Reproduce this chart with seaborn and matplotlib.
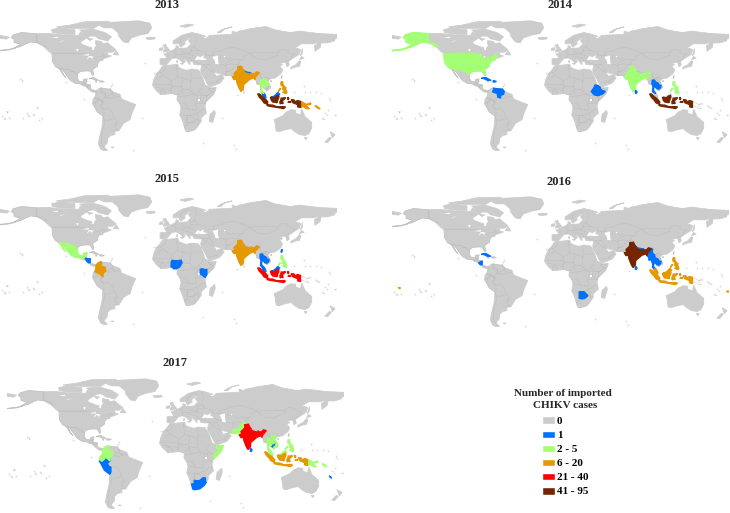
import numpy as np
import pandas as pd
import seaborn as sns
import matplotlib
matplotlib.use("Agg")
import matplotlib.pyplot as plt

sns.set_theme(style="white")
plt.rcParams['font.family'] = ['Liberation Serif', 'DejaVu Serif']

# lon / lat outlines
LAND = [
    [(-166,68.5),(-157,71),(-141,69.7),(-128,70),(-115,68.5),(-108,68.5),(-96,68),(-94,71.5),(-89,69),(-85,69.5),(-81,68),(-86,66),(-94,61),(-93,58.7),(-85,55.5),(-82,55),(-82,52.5),(-79,51.5),(-79,54.5),(-77,57),(-78,60),(-78,62.4),(-72,61.5),(-70,59),(-65,60),(-61,56.5),(-56,52.5),(-60,50),(-66,50),(-70,47),(-65,49),(-64.5,47),(-61,46),(-66,44),(-70,43),(-70,41.5),(-74,40.5),(-76,37),(-76,35),(-81,31.5),(-80,26),(-81,25),(-82.5,28),(-84,30),(-89,30),(-94,29.5),(-97.5,27),(-97.5,22),(-95,18.5),(-91,18.5),(-90.5,21),(-87,21.5),(-88,16),(-83.5,15),(-83.5,11),(-79.5,9.3),(-77.3,8.5),(-78,7.5),(-80.5,7.3),(-85,10),(-88,13),(-94,16),(-100,17),(-105,20),(-109,25.5),(-113,31),(-114.8,31.5),(-112,26),(-109.5,23),(-112,25),(-115,30),(-117,32.5),(-120.5,34.5),(-124,40),(-124,48),(-128,51),(-133,56),(-140,60),(-147,61),(-152,59),(-158,56),(-165,54.5),(-158,58.5),(-165,60.5),(-165,64),(-168,65.5)],
    [(-73,78),(-60,82),(-32,83.5),(-20,81),(-18,76),(-22,70),(-32,68),(-40,65),(-43,60),(-48,61),(-53,67),(-54,71),(-60,76),(-68,76)],
    [(-77.3,8.5),(-72,12),(-68,11),(-62,10.5),(-60,8),(-52,5),(-50,0),(-44,-2.5),(-35,-6),(-39,-15),(-41,-22),(-48,-26),(-53,-34),(-58,-34.5),(-57,-38),(-62,-39),(-65,-42),(-65.5,-47),(-69,-51),(-65,-55),(-72,-54),(-75,-48),(-73,-38),(-71,-30),(-70,-18),(-76,-14),(-81,-5),(-80,0),(-78,3),(-77.5,7)],
    [(-6,35.5),(10,37),(11,33.5),(19,30.5),(25,32),(32,31),(34,28),(37,21),(39,15),(43,12),(51,12),(48,5),(40,-3),(39,-8),(40.5,-15),(35,-20),(35,-24),(32.5,-27),(28,-33),(20,-35),(18,-33),(14.5,-22),(12,-17),(13.5,-10),(12,-5),(9,-1),(9.5,4),(5,6),(-4,5),(-8,4.5),(-13,9),(-17,14.5),(-16,20),(-13,27),(-10,30)],
    [(-9,37),(-9,43),(-1.5,43.5),(-4.5,48),(2,51),(8,54),(8,57),(11,56),(10,54),(20,54.5),(24,59),(30,60),(23,60),(21,63),(25,65.5),(22,65.5),(17,61),(18,59),(13,55.5),(11,59),(5,59),(5,62),(14,68),(25,71),(32,69.5),(40,67),(35,66),(40,64.5),(44,68),(54,68.5),(68,69),(68,72.5),(73,71),(75,72.5),(81,73.5),(87,75),(104,77.5),(113,74),(130,71),(140,72.5),(160,70),(180,69),(180,65),(178,64),(177,62),(170,60),(163,60),(162,55),(156.5,51),(156,57),(163,62),(155,59),(142,59),(135,54.5),(141,53),(140,48),(132,43),(128,40),(129,36),(126.5,34.5),(126,37),(125,39.5),(121,39),(118,39),(122,37),(119,35),(122,31),(120,27),(114,22.5),(108,21.5),(106,19),(109,13),(105,8.6),(103,10.5),(100,13.5),(99.5,9),(103.5,4),(104,1.3),(101,3),(98.5,8),(98,15),(94.5,16),(94,19),(91,22.5),(87,21),(80,15),(80,11),(77.5,8),(73,18),(72.5,21),(69,22),(67,25),(57,25.5),(56.5,27),(51,28),(48,30),(50,26),(51,24),(56,26),(59.5,22.5),(55,17),(45,13),(43,13),(39,21),(35,28),(34.5,31.5),(36,36.5),(31,36.5),(27,37),(26,40),(23,40),(23,36.5),(19.5,41),(13,45.5),(18,40),(16,38),(12,42),(8,44),(3,43),(0,39),(-2,36.7),(-5,36)],
    [(113,-22),(114,-26),(115,-34),(118,-35),(124,-33),(131,-31.5),(135,-35),(140,-38),(146,-39),(150,-37),(153,-31),(153,-25),(146,-19),(142.5,-11),(141,-17),(136,-15),(136,-12),(131,-11.5),(126,-14),(122,-18)],
    [(-180,68),(-170,66),(-173,64),(-180,65)],
    [(-180,51.5),(-170,52.5),(-163,54.5),(-163,55),(-170,53),(-180,52)],
    [(-125,74),(-116,76),(-100,74),(-100,69),(-115,69.5),(-124,71)],
    [(-120,77),(-105,79),(-90,82.5),(-65,83),(-62,82),(-76,78),(-80,75.5),(-100,75.5),(-115,76)],
    [(-95,73.7),(-80,74.5),(-68,71),(-61,66.5),(-65,62),(-75,64.5),(-78,67),(-88,68.5)],
    [(-87,65),(-81,64),(-84,62.5)],
    [(-59,47.5),(-53,47),(-56,51.5)],
    [(-24,65.5),(-15,66),(-14,64.5),(-19,63.5),(-23,64)],
    [(-5.5,50),(1.5,51.5),(0,53.5),(-2,56),(-3,58.5),(-6,57.5),(-3.5,54),(-5,52)],
    [(-10,52),(-6,52.3),(-6,55),(-9.5,54)],
    [(12,78),(22,80),(27,79),(18,76.5)],
    [(52,71),(57,74),(68,77),(60,75),(56,71)],
    [(141,46),(143,54),(143,49)],
    [(140,42),(145,43.5),(142,45.5)],
    [(130.5,32),(135,34),(140,35),(141.5,40),(140,41),(136,36.5),(131,34)],
    [(120.2,23),(121.5,25.2),(121,22)],
    [(108.7,19),(110.5,20),(110,18.3)],
    [(43.5,-24),(44.5,-16.5),(49.3,-12),(50,-16),(47,-25)],
    [(172.5,-35),(178,-38),(175,-41.5),(174,-38)],
    [(167,-46),(172,-41),(174,-42),(170,-46.5)],
    [(145,-41),(148,-41),(147,-43.5)],
    [(-84.5,22),(-80,23),(-74.5,20),(-78,20),(-82,22)],
    [(-74,19.7),(-68.5,18.7),(-71.5,18),(-74,18.3)],
    [(-78.3,18.4),(-76.3,18),(-77,18.5)],
    [(9,41),(9.7,41),(9.5,39),(8.5,39)],
    [(12.5,38),(15.5,38),(15,36.8)],
    [(-61,-51.5),(-58,-51.5),(-59.5,-52.3)],
    [(-69,-53.5),(-66,-54.5),(-70,-55)],
]

WATER = [
    [(28,41.5),(31,46),(34,44.5),(38,47),(37,44.5),(41.5,42),(36,41.5),(32,42)],
    [(47,45),(53,46.5),(53,40),(54,37),(50,37.5),(49.5,40.5)],
    [(-92,47),(-85,48),(-84.7,46.5),(-89,46.5)],
    [(-87.5,42),(-85,46),(-80,45.5),(-82,43),(-84,45),(-86,43)],
    [(-83,41.7),(-76.5,43.6),(-79,43),(-82,42.5)],
    [(-99,53),(-96,53.5),(-97,50.5)],
    [(-125,65.5),(-118,66.5),(-118,65)],
    [(-115,62),(-110,62.5),(-116,61)],
    [(59,46),(61,46),(60,44)],
    [(32,0),(34,0),(34,-2.5),(32,-2.5)],
]

COUNTRIES = {
    "USA": [[(-124.7,48.4),(-95,49),(-89,48),(-84.5,46.5),(-82.5,45),(-82.5,42),(-79,43),(-75,45),(-71,45),(-69,47.3),(-67,45),(-70,43.5),(-70,41.5),(-74,40.5),(-76,37),(-76,35),(-81,31.5),(-80,26),(-81,25.3),(-82.5,28),(-84,30),(-89,30),(-94,29.5),(-97.3,26),(-99.5,27.5),(-101.5,29.8),(-103,29),(-106.5,31.7),(-111,31.3),(-114.8,32.5),(-117.1,32.5),(-120.5,34.5),(-124,40)],
            [(-141,69.7),(-157,71),(-166,68.5),(-168,65.5),(-165,64),(-165,60.5),(-158,58.5),(-165,54.5),(-158,56),(-152,59),(-147,61),(-140,60),(-133,56),(-130,55.5),(-135,59.5),(-141,60)],
            [(-180,51.5),(-170,52.5),(-163,54.5),(-163,55),(-170,53),(-180,52)]],
    "Mexico": [[(-117.1,32.5),(-114.8,32.5),(-111,31.3),(-106.5,31.7),(-103,29),(-101.5,29.8),(-99.5,27.5),(-97.3,26),(-97.5,22),(-95,18.5),(-91,18.5),(-90.5,21),(-87,21.5),(-88,18),(-89,17.8),(-91,17.5),(-92,14.6),(-94,16),(-100,17),(-105,20),(-109,25.5),(-113,31),(-114.8,31.5),(-112,26),(-109.5,23),(-112,25),(-115,30)]],
    "Guatemala": [[(-92,14.6),(-91,17.5),(-89,17.8),(-89,15.8),(-90,13.8)]],
    "Honduras": [[(-89,15.8),(-83.5,15),(-84.5,14.7),(-87.5,13)]],
    "Nicaragua": [[(-87.5,13),(-83.5,15),(-83.7,11),(-85.7,11)]],
    "Panama": [[(-83,8.5),(-79.5,9.4),(-77.3,8.5),(-78,7.5),(-80.5,7.3),(-83,8)]],
    "Cuba": [[(-84.5,22),(-80,23),(-74.5,20),(-78,20),(-82,22)]],
    "Dominican Rep": [[(-71.7,19.7),(-68.5,18.7),(-71.5,18)]],
    "Colombia": [[(-77.3,8.5),(-75,11),(-72,12),(-71.3,11),(-72.5,7.5),(-67.5,6),(-67,2),(-70,-0.5),(-70,-4.2),(-74,-0.5),(-75.5,0),(-78.8,1.5),(-77.5,4),(-77.5,7)]],
    "Venezuela": [[(-72,11.5),(-68,11),(-62,10.5),(-60,8),(-61,5),(-64,4),(-64,1),(-67,2),(-67.5,6),(-72.5,7.5),(-71.3,11)]],
    "Ecuador": [[(-80,1),(-78.8,1.5),(-75.5,0),(-75.3,-1.5),(-78.5,-4.5),(-80.3,-3.4),(-81,-1)]],
    "Peru": [[(-81.2,-4.5),(-80.3,-3.4),(-78.5,-4.5),(-75.3,-1.5),(-75.5,0),(-74,-0.5),(-70,-2),(-70,-4.2),(-73,-7),(-71,-10),(-69,-11),(-69,-16),(-69.5,-17.5),(-70.4,-18.3),(-76,-14),(-79,-8)]],
    "Nigeria": [[(2.7,6.3),(3,12),(4,13.5),(9,13),(13.5,13.7),(14.5,11),(12,6.5),(8.5,4.5),(5.5,4.5),(4,6.3)]],
    "Kenya": [[(34,4),(36,4.5),(39.5,3.5),(41,3.9),(41,-1.6),(39.2,-4.7),(34,-1),(34,1)]],
    "Ethiopia": [[(33,8),(36,12.5),(37,15),(40,14.5),(42.5,12.5),(43,10),(47.9,8),(44.5,5),(41,3.9),(39.5,3.5),(36,4.5),(35,5.5)]],
    "Somalia": [[(41,-1.6),(41,3.9),(44.5,5),(47.9,8),(43,10),(43.5,11.3),(51,12),(49,6),(45,2)]],
    "Botswana": [[(20,-18),(25,-17.8),(29.3,-22),(26,-25),(23,-25.5),(20,-24.8),(20,-22)]],
    "South Africa": [[(17,-29),(20,-28.5),(20,-24.8),(23,-25.5),(26,-25),(29.3,-22.3),(32,-22.3),(32,-26),(32.8,-27),(31,-30),(26,-34),(20,-35),(18.3,-34),(18,-32)]],
    "Pakistan": [[(61,25),(61.5,29.5),(66,29.5),(69.5,33),(71,36),(74,37),(75.5,36),(74,34.5),(74,31),(70,27),(71,24.5),(68.2,23.7),(66.5,25.4)]],
    "India": [[(68.2,23.7),(71,24.5),(70,27),(74,31),(74,34.5),(78,35),(79,32.5),(81,30),(80,28.8),(84,27.3),(88,26.4),(88.2,28),(89.7,26.7),(92,26.9),(94,29),(97,28.2),(94.7,25.2),(93.3,24),(92.3,21),(91,23),(88.5,21.7),(87,21.2),(85,19.5),(80.3,15.5),(80,11),(77.5,8),(75.5,11.5),(73,18),(72.7,21),(70,20.8),(69,22.3)]],
    "Nepal": [[(80,28.8),(81,30),(84,28.5),(88.2,28),(88,26.4),(84,27.3)]],
    "Bangladesh": [[(88.2,26),(89.7,26),(92.3,25),(92.3,21),(91,23),(88.8,21.7),(88.5,24)]],
    "Sri Lanka": [[(80,9.7),(81.8,7.5),(81,6),(80,6.2)]],
    "Myanmar": [[(92.2,21),(93.3,24),(94.7,25.2),(97,28.2),(98.5,27.5),(98,24.5),(99.5,22),(101,21.5),(100,20.4),(98,20),(97.7,17),(98.2,15),(98.6,11),(97.8,14.5),(97.5,16.5),(95.5,16),(94.3,16),(94.5,18.5)]],
    "Thailand": [[(98,20),(100,20.4),(101,19.5),(101,17.6),(102.5,18),(104.7,16.5),(105.5,14.3),(102.5,14),(102.5,12),(100.9,13.4),(100,13.4),(99.3,10),(100,8),(102,6.2),(100.1,6.5),(98.3,8),(98.6,11),(99,13),(98.2,15),(97.7,17)]],
    "Laos": [[(100,20.4),(101.2,21.5),(102,22.4),(103,20.8),(105,19),(107,16.8),(107.5,15),(105.5,14.3),(104.7,16.5),(102.5,18),(101,17.6),(101,19.5)]],
    "Cambodia": [[(102.5,14),(105.5,14.3),(107.5,14.7),(107,12),(105,10.5),(103,11),(102.5,12)]],
    "Vietnam": [[(102,22.4),(105.5,23),(108,21.6),(105.8,19),(107.5,16.5),(109.3,13),(109,11),(105,8.7),(105,10.5),(107,12),(107.5,15),(107,16.8),(105,19),(103,20.8)]],
    "Malaysia": [[(100.1,6.5),(102.1,6.2),(103.5,4),(104.2,1.4),(103.4,1.4),(101,3),(100.3,5)],
                 [(109.7,1.9),(111.3,2.5),(113,3.2),(115,5),(116.7,7),(119,5),(117.5,4.2),(115,3),(113,1.2)]],
    "Indonesia": [[(95.3,5.5),(97.5,5.2),(100,2.5),(103.5,0),(106,-3),(105.7,-5.8),(102,-4),(100,-1),(97,2)],
                  [(105.2,-6.8),(106,-5.9),(108.5,-6.5),(111,-6.5),(114.5,-7.8),(114.3,-8.7),(110,-8),(106.5,-7.4)],
                  [(109,1.5),(109.7,2),(113,1.2),(115,3),(117.5,4.2),(118,2.5),(117.5,0.5),(116.5,-1.5),(116,-4),(114,-3.5),(111.5,-3.2),(110,-1.5)],
                  [(119.5,-5.5),(120.4,-3),(121,-4.5),(122.5,-5),(122,-3),(121,-1.5),(123,-1),(125,1.5),(123,1),(120.5,1),(120,-1),(119,-3)],
                  [(115,-8.3),(119,-8.3),(123,-8.2),(125,-8.5),(123,-10.2),(119.5,-9.5),(116,-9)],
                  [(127.5,2),(128.5,0.5),(128,-1),(127.3,0.5)],
                  [(128,-3),(130.5,-3),(130.5,-3.6),(128,-3.5)],
                  [(131,-0.8),(134,-1),(135,-3),(138,-1.7),(141,-2.6),(141,-9.1),(138,-8.3),(138,-6),(133,-4),(132,-2.5)]],
    "PNG": [[(141,-2.6),(145,-4.5),(147.5,-6),(147,-7),(150.5,-10.5),(147,-10),(144,-7.8),(141,-9.1)],
            [(148,-5.6),(152,-4.2),(152,-5.5),(149,-6.3)],
            [(157,-7),(160,-9),(162,-10.5),(160,-10),(157,-8)]],
    "Philippines": [[(120.5,18.5),(122.2,18.4),(122,16),(124,13),(122,13.7),(120.5,14.5),(120,16.5)],
                    [(122,7),(125.5,9.8),(126.5,7),(125.5,5.8),(124,6.5)],
                    [(122,11.8),(125.5,12.5),(125,10),(123,9.5),(122,10.5)],
                    [(117.3,8.4),(119.5,11.3),(119.6,10.8),(117.7,8.2)]],
    "Taiwan": [[(120.2,23),(121.5,25.2),(121,22)]],
    "New Caledonia": [[(164.2,-20.2),(167,-22.4),(166,-22.2)]],
    "Fiji": [[(177.5,-17.5),(179.5,-17),(179,-18.5)]],
    "Samoa": [[(-173,-13.3),(-171,-13.7),(-172,-14.5)]],
}

BORDERS = [
    [(-141,69.7),(-141,60)], [(-124.7,49),(-95,49)],
    [(-70,-4),(-73,-7),(-69,-11),(-65,-10),(-60,-14),(-58,-20),(-54.5,-25.5),(-57.5,-30),(-53.5,-33.5)],
    [(-70,-18),(-68,-23),(-70,-33),(-71.5,-40),(-72,-50),(-69,-52)], [(-58,-20),(-62,-22),(-67,-23)], [(-58,-27),(-54.5,-25.5)],
    [(-60,8),(-60,5),(-57,2),(-52,3)], [(-64,1),(-60,1),(-57,2)], [(-58,-34),(-53.5,-33.5)],
    [(-2,35),(-5,30),(-9,28),(-13,27.5)], [(-9,28),(-5,25),(3,19),(4,13.5)], [(-13,22),(-5,25)],[(-16,16),(-5,15.5),(3,15),(4,13.5)],
    [(9,37),(8,31),(11,33)], [(9,30),(10,24),(14,23),(24,19.5),(24,31)], [(3,19),(10,24)], [(25,22),(37,22)],
    [(14,23),(15.5,20),(13.5,13.7)], [(24,19.5),(23,10),(27,5),(33,8)], [(15,11),(23,10)], [(14.5,11),(16,3),(9.5,3)],
    [(16,3),(27,5),(31,3.5),(34,4)], [(30,-1),(34,-1)], [(12,-5),(18,-5),(22,-11),(30,-12),(29,-5),(30,-1),(31,3.5)],
    [(13.5,-17),(23,-18),(25,-17.8),(30,-15),(33,-14),(36,-11),(40,-11)], [(29,-5),(39.2,-4.7)], [(-8,4.5),(-8,10),(-5,10),(-3,5)], [(-3,11),(2.7,11),(2.7,6.3)], [(-13,12.5),(-5,11)],
    [(20,-18),(20,-24.8)], [(13.5,-10),(22,-11)], [(17,-29),(20,-28.5)], [(30,-15),(33,-25)],
    [(-2,43),(3,42.5)], [(-7,42),(-7,37)], [(3,51),(8,49),(7,44)], [(7,54),(7,50)], [(14,54),(15,50),(24,50)], [(24,54),(24,50),(22,48),(29,45.5)], [(8,47),(17,48),(22,48)], [(13,46),(22,44),(26,41.5)], [(32,52),(24,51.5)], [(28,56),(22,56)], [(20,69),(24,66)], [(12,60),(15,66),(20,69)], [(29,69.5),(30,62),(28,60)],
    [(28,60),(28,56),(32,52),(40,50),(40,47),(48,46),(47.5,50),(55,51),(61,54),(70,55),(77,53),(87,49),(98,50),(107,50),(117,49.5),(120,53),(125,53),(131,48),(135,48),(131,43)],
    [(52,42),(56,45),(61,44),(66,41),(70,42),(80,42.5),(80,45),(87,49)], [(87,49),(91,45),(96,42.7),(105,41.7),(112,45),(117,47),(117,49.5)],
    [(80,42.5),(74,39),(75.5,36)], [(54,37),(61,36),(66,37.5),(74,37)], [(61,36),(61,30),(61,25)], [(61.5,29.5),(66,29.5)],
    [(26,41),(36,36.5),(44,37),(44,40),(41,41.5)], [(44,37),(46,34),(48,30)], [(36,36.5),(41,34),(39,32),(35,29.5)], [(41,34),(46,29),(48,29)],
    [(43,17),(52,19),(55,22),(56,25)], [(52,19),(53,16.5)], [(44,40),(49,38.5)],
    [(97,28.2),(92,27),(88,28),(81,30),(79,32.5),(78,35)], [(98.5,27.5),(98,24.5),(101,21.5),(102,22.4),(105.5,23),(108,21.6)], [(124,40),(130,42.5)], [(126,38),(128.5,38.5)], [(141,-2.6),(141,-9.1)],
]

# places that show only as specks on the map
SPECK_LON = [-172,-170,-159,-157,-156,-155,-150,-149,-145,-141,-140,-176,-178,-175,-151,-144,-138,-135,-25,-16,-60,-61,-62,57,72,73,134,145,146,151,158,163,167,169,172,173,170,-90,-110,70,37,-38,-28]
SPECK_LAT = [-14,-20,21,20,19,-20,-17,-18,-16,-10,-9,-20,-18,-21,-15,-17,-22,-20,38,28,16,14,12,-20,-53,4,7,14,7,7,7,6,-15,-17,1,-1,-12,0,18,-49,-47,-54,-20]

COLOR_BINS = ["0", "1", "2 - 5", "6 - 20", "21 - 40", "41 - 95"]
BIN_COLORS = ["#CCCCCC", "#0070FF", "#A3FF73", "#E69800", "#FF0000", "#732600"]

cases_2013 = {"1": ["Nepal", "Malaysia"], "2 - 5": ["Thailand", "Laos"], "6 - 20": ["India", "Bangladesh", "Philippines", "PNG"], "41 - 95": ["Indonesia"]}
cases_2014 = {"1": ["Cuba", "Dominican Rep", "Venezuela", "Ethiopia", "Sri Lanka", "Thailand", "Cambodia"], "2 - 5": ["USA", "India", "Philippines"], "41 - 95": ["Indonesia"]}
cases_2015 = {"1": ["Nicaragua", "Honduras", "Nigeria", "Kenya", "Thailand", "Cambodia", "Malaysia", "Taiwan"], "2 - 5": ["Mexico", "Philippines"], "6 - 20": ["Colombia", "India"], "21 - 40": ["Indonesia"]}
cases_2016 = {"1": ["Cuba", "Nicaragua", "Botswana", "Nepal", "Myanmar", "Thailand", "Cambodia", "Sri Lanka"], "6 - 20": ["Indonesia", "Malaysia", "Philippines", "Fiji", "Samoa"], "41 - 95": ["India", "Bangladesh"]}
cases_2017 = {"1": ["Peru", "South Africa", "Sri Lanka", "Cambodia", "New Caledonia"], "2 - 5": ["Colombia", "Ecuador", "Somalia", "Pakistan", "Thailand", "Vietnam", "Malaysia", "Philippines", "PNG"], "6 - 20": ["Indonesia"], "21 - 40": ["India"]}

years = ["2013", "2014", "2015", "2016", "2017"]
year_cases = [cases_2013, cases_2014, cases_2015, cases_2016, cases_2017]
# left edge and equator row of each map, title centre, in pixels
map_left = [0, 392, 0, 392, 7]
map_equator = [99, 99, 273, 275, 457]
title_x = [167, 560, 167, 559, 175]
title_y = [5, 5, 179, 182, 363]

W, H = 730.0, 513.0
PX_PER_DEG = 0.936
LAND_GREY = BIN_COLORS[0]
EDGE_GREY = "#B8B8B8"

fig = plt.figure(figsize=(W / 100, H / 100), dpi=100)


def draw_map(left, equator, cases):
    top = equator - 85 * PX_PER_DEG
    height = 145 * PX_PER_DEG
    ax = fig.add_axes([left / W, 1 - (top + height) / H, 360 * PX_PER_DEG / W, height / H])
    for poly in LAND:
        xy = np.array(poly)
        ax.fill(xy[:, 0], xy[:, 1], color=LAND_GREY, lw=0.6)
    for name, polys in COUNTRIES.items():
        for poly in polys:
            xy = np.array(poly)
            ax.plot(np.r_[xy[:, 0], xy[0, 0]], np.r_[xy[:, 1], xy[0, 1]], color=EDGE_GREY, lw=0.25)
    for line in BORDERS:
        xy = np.array(line)
        ax.plot(xy[:, 0], xy[:, 1], color=EDGE_GREY, lw=0.25)
    for poly in WATER:
        xy = np.array(poly)
        ax.fill(xy[:, 0], xy[:, 1], color="white", lw=0, zorder=3)
    # coloured countries go over the border lines
    for label, names in cases.items():
        color = BIN_COLORS[COLOR_BINS.index(label)]
        for name in names:
            for poly in COUNTRIES[name]:
                xy = np.array(poly)
                ax.fill(xy[:, 0], xy[:, 1], color=color, lw=1.0, zorder=4)
    sns.scatterplot(x=SPECK_LON, y=SPECK_LAT, s=1.5, color="#D8D8D8", linewidth=0, ax=ax)
    ax.set_xlim(-180, 180)
    ax.set_ylim(-60, 85)
    ax.set_axis_off()


for i in range(len(years)):
    draw_map(map_left[i], map_equator[i], year_cases[i])
    fig.text(title_x[i] / W, 1 - title_y[i] / H, years[i], ha="center", va="center", fontsize=9, fontweight="bold")

# legend drawn as a small bar chart, one bar per class
legend_df = pd.DataFrame({"label": COLOR_BINS, "width": [1] * len(COLOR_BINS)})
lax = fig.add_axes([542 / W, 1 - 498.1 / H, 13 / W, 85.2 / H])
sns.barplot(data=legend_df, y="label", x="width", hue="label", palette=BIN_COLORS, legend=False, width=0.5, saturation=1, ax=lax)
lax.set_xlim(0, 1)
lax.set(xlabel="", ylabel="")
lax.set_xticks([])
lax.yaxis.tick_right()
lax.tick_params(axis="y", length=0, pad=1.5)
for t in lax.get_yticklabels():
    t.set_fontsize(8)
    t.set_fontweight("bold")
    t.set_color("black")
sns.despine(ax=lax, left=True, bottom=True)

fig.text(563 / W, 1 - 393 / H, "Number of imported", ha="center", va="center", fontsize=8, fontweight="bold")
fig.text(565 / W, 1 - 405 / H, "CHIKV cases", ha="center", va="center", fontsize=8, fontweight="bold")

fig.savefig("out.png", dpi=100)
